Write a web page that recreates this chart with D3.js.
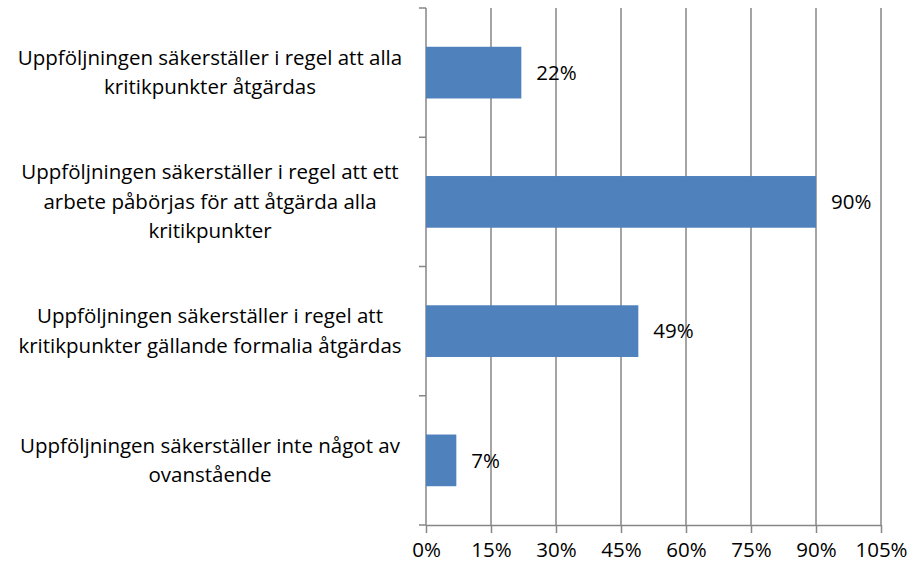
<!DOCTYPE html>
<html>
<head>
<meta charset="utf-8">
<script src="https://cdn.jsdelivr.net/npm/d3@7"></script>
<style>
  body { margin: 0; background: #fff; }
  text { font-family: "Open Sans", sans-serif; fill: #000; }
</style>
</head>
<body>
<div id="chart"></div>
<script>
// data
const categories = [
  "Uppföljningen säkerställer i regel att alla kritikpunkter åtgärdas",
  "Uppföljningen säkerställer i regel att ett arbete påbörjas för att åtgärda alla kritikpunkter",
  "Uppföljningen säkerställer i regel att kritikpunkter gällande formalia åtgärdas",
  "Uppföljningen säkerställer inte något av ovanstående"
]
const labelLines = [
  ["Uppföljningen säkerställer i regel att alla", "kritikpunkter åtgärdas"],
  ["Uppföljningen säkerställer i regel att ett", "arbete påbörjas för att åtgärda alla", "kritikpunkter"],
  ["Uppföljningen säkerställer i regel att", "kritikpunkter gällande formalia åtgärdas"],
  ["Uppföljningen säkerställer inte något av", "ovanstående"]
]
const values = [0.22, 0.90, 0.49, 0.07]
const xTicks = [0, 0.15, 0.30, 0.45, 0.60, 0.75, 0.90, 1.05]

function drawChart() {
  let dimensions = {
    width: 911,
    height: 570,
    margin: { top: 8, right: 30, bottom: 45, left: 426 },
  }
  dimensions.boundedWidth = dimensions.width - dimensions.margin.left - dimensions.margin.right
  dimensions.boundedHeight = dimensions.height - dimensions.margin.top - dimensions.margin.bottom

  const fontSize = "20.5px"

  const wrapper = d3.select("#chart")
    .append("svg")
      .attr("width", dimensions.width)
      .attr("height", dimensions.height)

  const bounds = wrapper.append("g")
    .attr("transform", `translate(${dimensions.margin.left},${dimensions.margin.top})`)

  const xScale = d3.scaleLinear()
    .domain([0, 1.05])
    .range([0, 455])

  const yScale = d3.scaleBand()
    .domain(categories)
    .range([0, dimensions.boundedHeight])
    .paddingInner(0.6)
    .paddingOuter(0.3)

  const gridColor = "#868686"

  // gridlines
  bounds.append("g")
    .selectAll("line")
    .data(xTicks.slice(1))
    .join("line")
      .attr("x1", d => xScale(d))
      .attr("x2", d => xScale(d))
      .attr("y1", 0)
      .attr("y2", dimensions.boundedHeight)
      .attr("stroke", gridColor)
      .attr("stroke-width", 1.5)

  // x axis
  const xAxis = bounds.append("g")
    .attr("transform", `translate(0,${dimensions.boundedHeight})`)
    .call(d3.axisBottom(xScale)
      .tickValues(xTicks)
      .tickFormat(d => Math.round(d * 100) + "%")
      .tickSize(8)
      .tickPadding(9)
      .tickSizeOuter(0))
  xAxis.select(".domain").attr("stroke", gridColor).attr("stroke-width", 1.5)
  xAxis.selectAll(".tick line").attr("stroke", gridColor).attr("stroke-width", 1.5)
  xAxis.selectAll(".tick text")
    .style("font-size", fontSize)
    .style("font-family", "'Open Sans', sans-serif")
    .attr("fill", "#000")

  // y axis (category boundaries ticks)
  const boundaries = d3.range(categories.length + 1).map(i => i * dimensions.boundedHeight / categories.length)
  bounds.append("line")
    .attr("x1", 0).attr("x2", 0)
    .attr("y1", 0).attr("y2", dimensions.boundedHeight)
    .attr("stroke", gridColor)
    .attr("stroke-width", 1.5)
  bounds.append("g")
    .selectAll("line")
    .data(boundaries)
    .join("line")
      .attr("x1", -7).attr("x2", 0)
      .attr("y1", d => d).attr("y2", d => d)
      .attr("stroke", gridColor)
      .attr("stroke-width", 1.5)

  // bars
  bounds.append("g")
    .selectAll("rect")
    .data(values)
    .join("rect")
      .attr("x", 0)
      .attr("y", (d, i) => yScale(categories[i]))
      .attr("width", d => xScale(d))
      .attr("height", yScale.bandwidth())
      .attr("fill", "#4F81BD")

  // value labels
  bounds.append("g")
    .selectAll("text")
    .data(values)
    .join("text")
      .attr("x", d => xScale(d) + 15)
      .attr("y", (d, i) => yScale(categories[i]) + yScale.bandwidth() / 2)
      .attr("dy", "0.35em")
      .style("font-size", fontSize)
      .text(d => Math.round(d * 100) + "%")

  // category labels
  const lineHeight = 29.5
  const labels = bounds.append("g")
    .selectAll("text")
    .data(labelLines)
    .join("text")
      .attr("text-anchor", "middle")
      .attr("x", -216)
      .attr("y", (d, i) => yScale(categories[i]) + yScale.bandwidth() / 2)
      .style("font-size", fontSize)
  labels.selectAll("tspan")
    .data(d => d.map((t, j) => ({ t, j, n: d.length })))
    .join("tspan")
      .attr("x", -216)
      .attr("dy", d => d.j === 0 ? ((-(d.n - 1) / 2) * lineHeight + 7) : lineHeight)
      .text(d => d.t)
}

drawChart()
</script>
</body>
</html>
